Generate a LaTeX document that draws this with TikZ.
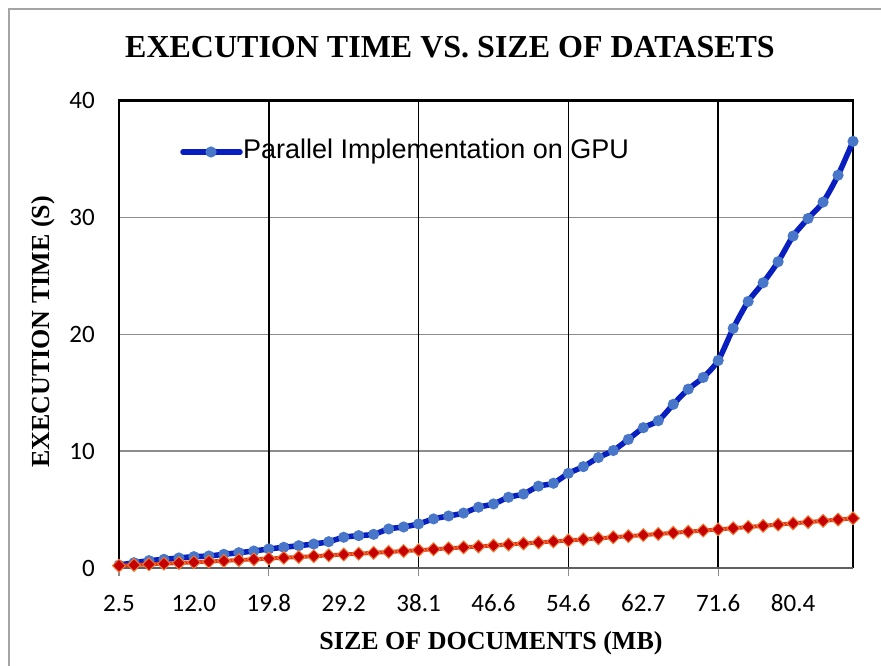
\documentclass[tikz,border=0pt]{standalone}
\usepackage{fontspec}
\setmainfont{Liberation Serif}
\newfontfamily\tickfont{Carlito}
\newfontfamily\legendfont{Liberation Sans}

\definecolor{gpuline}{RGB}{8,30,190}
\definecolor{gpumark}{RGB}{72,118,200}
\definecolor{cpufill}{RGB}{196,0,0}
\definecolor{cpuedge}{RGB}{240,120,50}
\definecolor{cpuline}{RGB}{222,60,30}
\definecolor{framegray}{RGB}{165,165,165}
\definecolor{gridgray}{RGB}{140,140,140}
\definecolor{axisgray}{RGB}{95,95,95}

\begin{document}
\begin{tikzpicture}[x=1pt,y=1pt,
  outerframe/.style={draw=framegray, line width=1.2pt},
  titletext/.style={font=\fontsize{32}{38}\selectfont\bfseries, inner sep=0pt},
  axistitle/.style={font=\fontsize{26}{31}\selectfont\bfseries, inner sep=0pt},
  ticklabel/.style={font=\tickfont\fontsize{25}{30}\selectfont, inner sep=0pt},
  legendtext/.style={font=\legendfont\fontsize{27}{32}\selectfont, inner sep=0pt},
  vgrid/.style={draw=black, line width=1.5pt},
  hgrid/.style={draw=gridgray, line width=1.2pt},
  tickmark/.style={draw=gridgray, line width=1.2pt},
  boxedge/.style={draw=black, line width=2.6pt},
  baseedge/.style={draw=axisgray, line width=2.8pt},
  gpuseries/.style={draw=gpuline, line width=5.5pt, line join=round},
  gpudot/.style={fill=gpumark},
  cpuseries/.style={draw=cpuline, line width=4pt, line join=round},
  cpudiamond/.style={fill=cpufill, draw=cpuedge, line width=1pt}
]
\useasboundingbox (0,0) rectangle (881,666);
\fill[white] (0,0) rectangle (881,666);

% outer chart frame (left and top edges only lie inside the page)
\draw[outerframe] (9,-5) -- (9,657) -- (886,657);

% chart title
\node[titletext] (title) at (450,619) {EXECUTION TIME VS. SIZE OF DATASETS};

% plot area: category index on x, seconds on y
\begin{scope}[x=14.98pt, y=11.69pt, shift={(119pt,98pt)}]
  % grid
  \foreach \v in {10,20,30} \draw[hgrid] (0,\v) -- (49,\v);
  \foreach \i in {10,20,30,40} \draw[vgrid] (\i,0) -- (\i,40);
  \foreach \i in {0,10,20,30,40} \draw[tickmark] (\i,0) -- ++(0,-8pt);

  % plot box
  \draw[boxedge] (0,0) -- (0,40) -- (49,40) -- (49,0);
  \draw[baseedge] (0,0) -- (49,0);

  % y tick labels
  \foreach \v in {0,10,20,30,40}
    \node[ticklabel, anchor=east] (ylab\v) at (0,\v) [xshift=-24pt] {\v};

  % x tick labels
  \foreach \i/\t in {0/2.5,5/12.0,10/19.8,15/29.2,20/38.1,25/46.6,30/54.6,35/62.7,40/71.6,45/80.4}
    \node[ticklabel] (xlab\i) at (\i,0) [yshift=-35.5pt] {\t};

  % parallel implementation on GPU
  \draw[gpuseries] plot[smooth, tension=0.45] coordinates {
    (0,0.25) (1,0.45) (2,0.63) (3,0.74) (4,0.86) (5,0.97) (6,1.03) (7,1.17)
    (8,1.31) (9,1.45) (10,1.63) (11,1.77) (12,1.91) (13,2.05) (14,2.25)
    (15,2.63) (16,2.77) (17,2.88) (18,3.34) (19,3.51) (20,3.77) (21,4.2)
    (22,4.45) (23,4.7) (24,5.2) (25,5.48) (26,6.05) (27,6.33) (28,7.0)
    (29,7.25) (30,8.1) (31,8.67) (32,9.45) (33,10.05) (34,11.0) (35,12.0)
    (36,12.6) (37,14.0) (38,15.3) (39,16.3) (40,17.75) (41,20.5) (42,22.8)
    (43,24.4) (44,26.2) (45,28.4) (46,29.9) (47,31.3) (48,33.6) (49,36.5)};
  \foreach \v [count=\i from 0] in {0.25,0.45,0.63,0.74,0.86,0.97,1.03,1.17,
      1.31,1.45,1.63,1.77,1.91,2.05,2.25,2.63,2.77,2.88,3.34,3.51,3.77,4.2,
      4.45,4.7,5.2,5.48,6.05,6.33,7.0,7.25,8.1,8.67,9.45,10.05,11.0,12.0,
      12.6,14.0,15.3,16.3,17.75,20.5,22.8,24.4,26.2,28.4,29.9,31.3,33.6,36.5}
    \fill[gpudot] (\i,\v) circle (5.6pt);

  % second series
  \draw[cpuseries] plot[domain=0:49, samples=50]
    (\x, {0.2+0.055*\x+0.00056*\x*\x});
  \foreach \i in {0,...,49}
    \draw[cpudiamond] (\i, {0.2+0.055*\i+0.00056*\i*\i})
      ++(0,6.4pt) -- ++(6.4pt,-6.4pt) -- ++(-6.4pt,-6.4pt) -- ++(-6.4pt,6.4pt) -- cycle;
\end{scope}

% legend
\coordinate (legA) at (183,514);
\coordinate (legB) at (240,514);
\coordinate (legM) at (211,514);
\draw[gpuseries, line cap=round] (legA) -- (legB);
\fill[gpudot] (legM) circle (5.6pt);
\node[legendtext, anchor=base west] (legtext) at (243,507) {Parallel Implementation on GPU};

% axis titles
\node[axistitle] (xtitle) at (491,23) {SIZE OF DOCUMENTS (MB)};
\node[axistitle, rotate=90] (ytitle) at (43,334) {EXECUTION TIME (S)};
\end{tikzpicture}
\end{document}
